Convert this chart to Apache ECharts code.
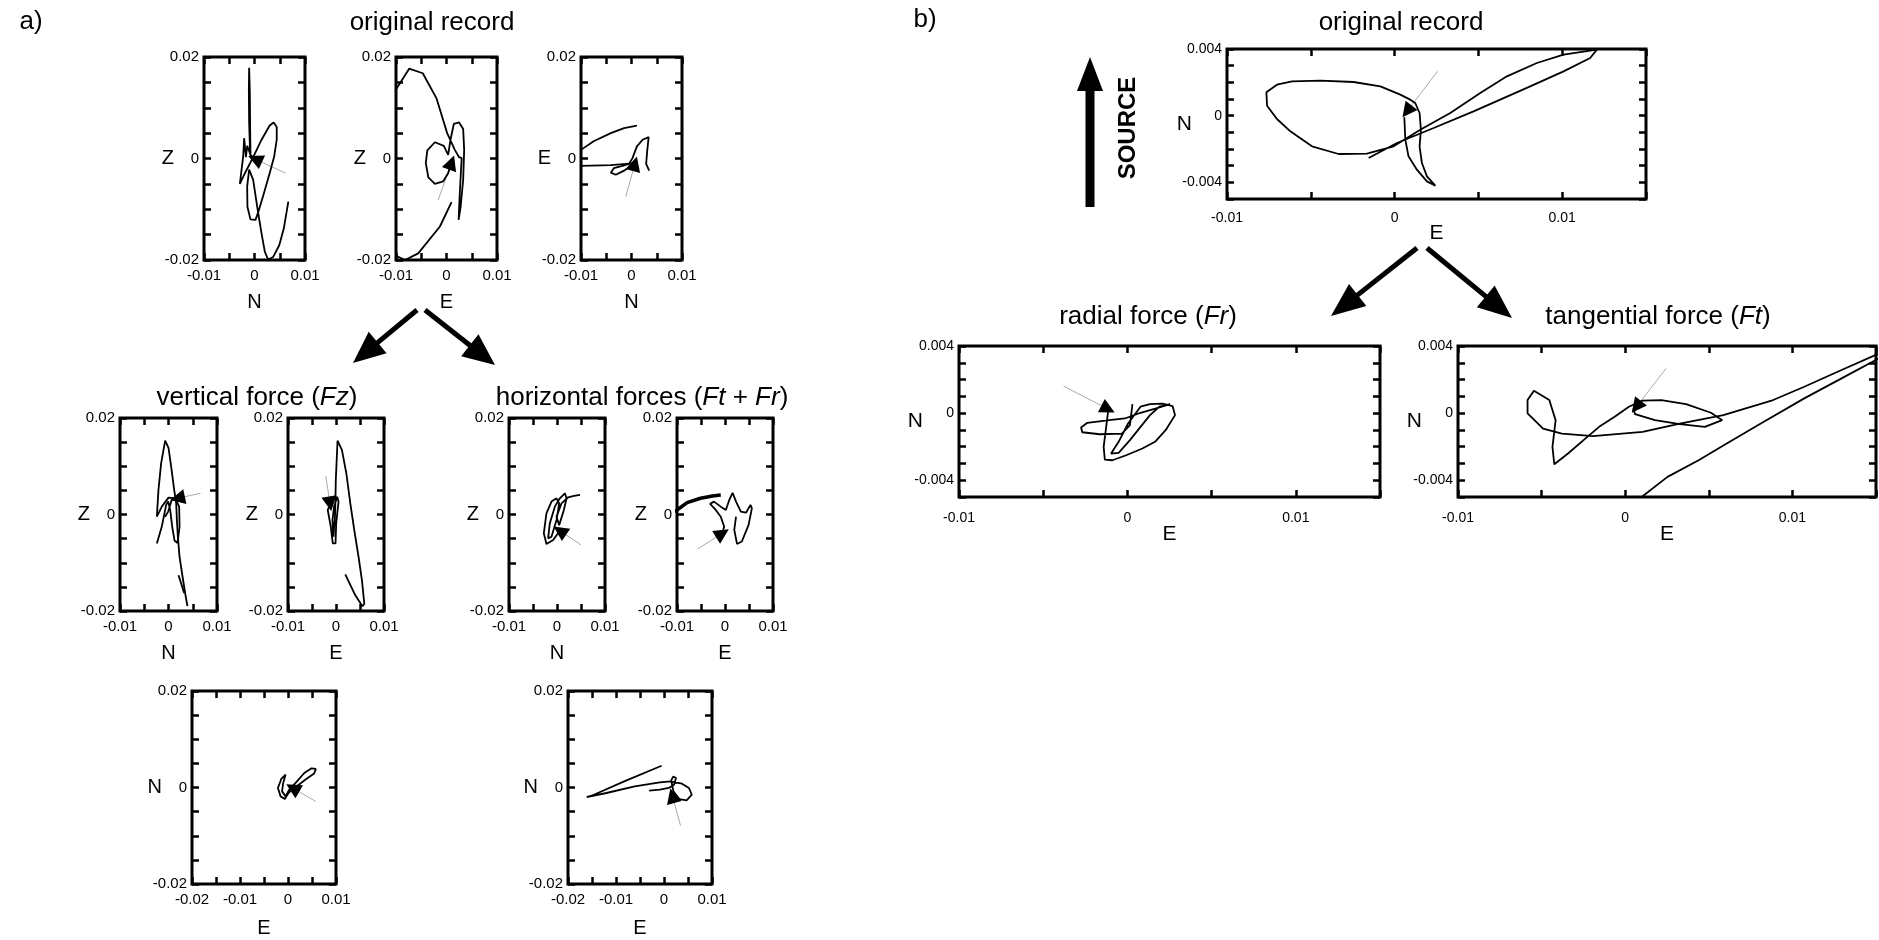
<!DOCTYPE html>
<html>
<head>
<meta charset="utf-8">
<script src="https://cdn.jsdelivr.net/npm/echarts@6/dist/echarts.min.js"></script>
<style>
  html, body { margin: 0; padding: 0; background: #fff; }
  #main { width: 1879px; height: 940px; }
</style>
</head>
<body>
<div id="main"></div>
<script>
// particle motion traces (metres), each panel is a list of line segments
// a) original record
const zN_orig = [[[0.00013,-0.00013],[-0.00086,0.00073],[-0.00106,0.0070],[-0.00112,0.0136],[-0.00106,0.0179],[-0.00092,0.0129],[-0.00086,0.0057],[-0.00079,0.00073],[-0.00145,0.0025],[-0.0017,0.00026],[-0.00205,0.0040],[-0.00224,0.0004],[-0.0029,-0.0050],[-0.0019,-0.0029],[-0.00026,0.00026],[0.0014,0.0037],[0.0030,0.0065],[0.0038,0.0071],[0.0044,0.0062],[0.0044,0.0037],[0.0039,0.0004],[0.0030,-0.0029],[0.00185,-0.0069],[0.00086,-0.0102],[0.0002,-0.0121],[-0.0008,-0.0120],[-0.0014,-0.0095],[-0.00145,-0.0055],[-0.00106,-0.0022],[-0.00026,-0.0042],[0.00053,-0.0095],[0.0014,-0.0148],[0.00205,-0.0184],[0.0027,-0.0199],[0.0037,-0.0194],[0.0049,-0.0171],[0.0058,-0.0138],[0.0067,-0.0085]]];
const zN_origStart = [[0.0062,-0.0029],[0.00013,-0.00013]];

const zE_orig = [[[0.00086,-0.00105],[0.00033,-0.0029],[-0.00066,-0.0045],[-0.0023,-0.0050],[-0.0036,-0.0037],[-0.0041,-0.00092],[-0.0038,0.0016],[-0.0023,0.0032],[-0.00053,0.0025],[0.00033,0.00072],[0.00079,0.0037],[0.00145,0.0068],[0.0025,0.0071],[0.0033,0.0058],[0.0035,0.0017],[0.0033,-0.0042],[0.0028,-0.0095],[0.0024,-0.0121],[0.0026,-0.0075],[0.0030,0.00007],[0.0025,0.00026],[0.00165,0.0017],[0.00013,0.0050],[-0.0020,0.0119],[-0.0047,0.0168],[-0.0074,0.0177],[-0.0100,0.0136],[-0.0112,-0.0029],[-0.0099,-0.0192],[-0.0082,-0.0200],[-0.0056,-0.0187],[-0.0013,-0.0134],[0.0010,-0.0086]]];
const zE_origStart = [[-0.00165,-0.0082],[0.0010,-0.0008]];

const eN_orig = [
  [[0.00053,-0.00105],[-0.00013,-0.00145],[-0.00147,-0.0024],[-0.0031,-0.0032],[-0.0041,-0.0028],[-0.0035,-0.0019],[-0.0018,-0.00145],[-0.00047,-0.00105],[0.0002,0.00007],[0.00107,0.0024],[0.0022,0.0037],[0.0034,0.0042],[0.0031,0.0014],[0.0029,-0.00105],[0.0035,-0.0024]],
  [[0.00087,-0.00092],[-0.0041,-0.0013],[-0.0100,-0.00145],[-0.0121,-0.0016]],
  [[-0.0115,0.0007],[-0.0100,0.0017],[-0.0075,0.0034],[-0.0041,0.0050],[-0.00147,0.0060],[0.00107,0.0065]]
];
const eN_origStart = [[-0.00113,-0.0075],[0.00067,-0.00105]];

// a) vertical force (Fz)
const zN_vert = [
  [[0.00186,0.00336],[0,0.0035],[-0.00138,0.00163],[-0.0024,-0.00045],[-0.00207,0.0051],[-0.00152,0.0106],[-0.00069,0.0153],[0,0.0138],[0.00055,0.0099],[0.00117,0.0051],[0.00159,0.0023],[0.00173,-0.00114],[0.00193,-0.0046],[0.00228,-0.0088],[0.0029,-0.0129],[0.00345,-0.0164],[0.0039,-0.0190]],
  [[-0.0024,-0.0060],[-0.00138,-0.0025],[-0.00048,0.0020],[-0.00007,0.0027],[0.00035,0.00094],[0.00076,-0.0025],[0.00124,-0.0054],[0.00186,-0.0059],[0.00228,-0.0025],[0.0022,0.00163],[0.00145,0.0032],[0.00062,0.0029],[-0.00007,0.0006],[-0.00069,-0.00045]],
  [[0.00207,-0.0126],[0.00324,-0.0163]]
];
const zN_vertStart = [[0.0066,0.0044],[0.00186,0.00336]];

const zE_vert = [[[-0.00123,0.00198],[-0.00172,0.00094],[-0.00109,-0.0025],[-0.00067,-0.0060],[-0.0001,-0.0060],[0.00004,-0.00184],[0.00053,0.00267],[0.00025,0.0037],[-0.00039,0.00163],[-0.00074,-0.00114],[-0.00053,-0.0046],[-0.00018,0.00024],[-0.00004,0.0072],[0.00032,0.0153],[0.00123,0.0134],[0.00214,0.0086],[0.00298,0.0023],[0.0038,-0.0032],[0.0047,-0.0088],[0.0054,-0.0136],[0.0059,-0.0185],[0.0055,-0.0190],[0.0040,-0.0167],[0.00193,-0.0124]]];
const zE_vertStart = [[-0.00214,0.0080],[-0.00123,0.0022]];

// a) horizontal forces (Ft + Fr)
const zN_horiz = [[[0.00059,-0.00336],[-0.0008,-0.0053],[-0.0022,-0.0061],[-0.00275,-0.0039],[-0.0022,0.00024],[-0.00115,0.00267],[-0.0001,0.00336],[0.00045,0.0023],[-0.0001,-0.00114],[-0.00115,-0.0046],[-0.00185,-0.00495],[-0.0015,-0.00184],[-0.00045,0.00163],[0.00059,0.00336],[0.00164,0.0044],[0.00199,0.00336],[0.00143,0.00094],[0.00045,-0.0022],[-0.0001,-0.00045],[0.00094,0.0023],[0.00233,0.00357],[0.00352,0.00385],[0.0048,0.00405]]];
const zN_horizStart = [[0.0050,-0.0063],[0.00059,-0.00336]];

const zE_horiz = [
  [[-0.00053,-0.0039],[-0.00018,-0.0025],[-0.00088,-0.00045],[-0.00193,0.00094],[-0.0031,0.0022],[-0.0023,0.00267],[-0.00088,0.00163],[0.00018,0.00094],[0.00088,0.0030],[0.00158,0.0045],[0.0023,0.00267],[0.0033,0.00059],[0.0044,0.00038],[0.0053,0.00198],[0.0056,0.00128],[0.0049,-0.0022],[0.0035,-0.0056],[0.0025,-0.0061],[0.00193,-0.0032],[0.0023,-0.00045]],
  [[-0.0114,0.0001],[-0.0100,0.00094],[-0.0079,0.00246],[-0.0051,0.00336],[-0.0026,0.00385],[-0.00088,0.00405]]
];
const zE_horizStart = [[-0.0058,-0.0072],[-0.00053,-0.0039]];

// a) map view N vs E
const nE_vert = [[[0.00099,-0.00031],[0.0001,-0.00114],[-0.00065,-0.0024],[-0.00154,-0.00184],[-0.0021,-0.0001],[-0.0014,0.00177],[-0.0005,0.00267],[-0.001,0.00094],[-0.00124,-0.0008],[-0.0005,-0.00184],[0.00025,-0.00045],[0.00158,0.00094],[0.0034,0.0030],[0.0049,0.00398],[0.0058,0.00385],[0.00545,0.0029],[0.0038,0.00177],[0.00196,0.00038],[0.00069,-0.00059]]];
const nE_vertStart = [[0.0058,-0.0029],[0.00099,-0.0001]];

const nE_horiz = [[[-0.0031,-0.00066],[-0.00087,-0.00045],[0.00099,-0.0001],[0.0021,0.00059],[0.0025,0.00198],[0.00196,0.0023],[0.0015,0.0015],[0.00196,-0.0008],[0.0032,-0.0024],[0.0047,-0.00267],[0.0058,-0.0015],[0.0052,-0.0001],[0.00374,0.0008],[0.00136,0.00128],[-0.00087,0.00107],[-0.0061,0.00024],[-0.0120,-0.00114],[-0.0161,-0.00198],[-0.0146,-0.0015],[-0.0083,0.00128],[-0.0005,0.0045]]];
const nE_horizStart = [[0.00344,-0.0079],[0.00173,-0.0017]];

// b) original record and its radial / tangential parts
const nE_origB = [[[0.00058,-0.0001],[0.00064,-0.00144],[0.00083,-0.00244],[0.00133,-0.00324],[0.00193,-0.00394],[0.00243,-0.0042],[0.00193,-0.00364],[0.00163,-0.00284],[0.00149,-0.00184],[0.00157,-0.00084],[0.00149,0.00016],[0.00123,0.00076],[0.00093,0.00096],[0.00034,0.00126],[-0.00085,0.00176],[-0.00245,0.00202],[-0.00443,0.0021],[-0.00612,0.00206],[-0.00702,0.00186],[-0.00765,0.0014],[-0.00761,0.0006],[-0.00702,-0.0002],[-0.00622,-0.00094],[-0.00493,-0.00184],[-0.00334,-0.0023],[-0.00165,-0.00228],[-0.00006,-0.00184],[0.00153,-0.00084],[0.00332,0.00016],[0.00511,0.00136],[0.0067,0.00236],[0.00849,0.00316],[0.01008,0.00366],[0.01207,0.00396],[0.01217,0.00392],[0.01167,0.00346],[0.01008,0.00266],[0.00809,0.00176],[0.0063,0.00096],[0.00471,0.00026],[0.00233,-0.00074],[0.00014,-0.00164],[-0.00155,-0.00254]]];
const nE_origBStart = [[0.00256,0.00266],[0.00074,0.00026]];

const nE_radial = [[[-0.00115,0.00008],[-0.00126,-0.00082],[-0.00141,-0.00201],[-0.00134,-0.00277],[-0.00089,-0.00281],[-0.00007,-0.00251],[0.00089,-0.00211],[0.00164,-0.00171],[0.00227,-0.00102],[0.00283,-0.00012],[0.00268,0.00042],[0.00208,0.00056],[0.00134,0.00054],[0.00078,0.00038],[0.00004,-0.00062],[-0.00052,-0.00171],[-0.00097,-0.00241],[-0.00052,-0.00237],[0.00015,-0.00161],[0.00078,-0.00082],[0.00134,-0.00012],[0.0019,0.00038],[0.00253,0.00054],[0.00171,0.00028],[0.00078,0.00002],[-0.00015,-0.00032],[-0.00108,-0.00042],[-0.00238,-0.00058],[-0.00275,-0.00086],[-0.00268,-0.00114],[-0.00164,-0.00126],[-0.00033,-0.00122],[0.00015,-0.00072],[0.0003,0.00054]]];
const nE_radialStart = [[-0.00379,0.00161],[-0.00115,0.00024]];

const nE_tangential = [[[0.00048,0.00028],[0.00059,-0.00006],[0.00178,-0.00042],[0.00327,-0.00066],[0.00476,-0.00082],[0.0058,-0.00042],[0.00513,0.00002],[0.00364,0.00054],[0.00216,0.00078],[0.00104,0.00074],[0.00022,0.00038],[-0.00063,-0.00022],[-0.00156,-0.00082],[-0.00249,-0.00161],[-0.00342,-0.00241],[-0.00424,-0.00305],[-0.00435,-0.00201],[-0.00416,-0.00042],[-0.00454,0.00078],[-0.00546,0.00133],[-0.00584,0.00078],[-0.00584,-0.00002],[-0.00491,-0.00092],[-0.00379,-0.00122],[-0.00193,-0.00137],[0.00104,-0.00112],[0.00327,-0.00062],[0.00587,-0.00012],[0.00885,0.00078],[0.01071,0.00157],[0.01294,0.00257],[0.01499,0.00347],[0.0163,0.00392],[0.01499,0.00317],[0.01294,0.00207],[0.01071,0.00088],[0.00829,-0.00052],[0.00625,-0.00171],[0.00439,-0.00281],[0.00253,-0.0038],[0.00104,-0.00496],[0.00067,-0.0053]]];
const nE_tangentialStart = [[0.00245,0.00267],[0.00067,0.00038]];

const FONT = "'Liberation Sans', Arial, Helvetica, sans-serif";

// layout of the panels: [left, top, width, height] in px
const aStyle = { labelSize: 15, nameSize: 20, xLabelMargin: 8, yLabelMargin: 5, xNameGap: 32, yNameGap: 30, xLab: 0.01, yLab: 0.02 };
const bStyle = { labelSize: 14, nameSize: 21, xLabelMargin: 12, yLabelMargin: 5, xNameGap: 24, yNameGap: 35, xLab: 0.01, yLab: 0.004 };
const aRange = { x: [-0.01, 0.01, 0.005], y: [-0.02, 0.02, 0.005] };
const mapRange = { x: [-0.02, 0.01, 0.005], y: [-0.02, 0.02, 0.005] };
const bRange = { x: [-0.01, 0.015, 0.005], y: [-0.005, 0.004, 0.001] };

const panels = [
  { box: [204, 57, 101, 203], r: aRange, s: aStyle, xName: 'N', yName: 'Z', trace: zN_orig, start: zN_origStart },
  { box: [396, 57, 101, 203], r: aRange, s: aStyle, xName: 'E', yName: 'Z', trace: zE_orig, start: zE_origStart },
  { box: [581, 57, 101, 203], r: aRange, s: aStyle, xName: 'N', yName: 'E', trace: eN_orig, start: eN_origStart },
  { box: [120, 418, 97, 193], r: aRange, s: aStyle, xName: 'N', yName: 'Z', trace: zN_vert, start: zN_vertStart },
  { box: [288, 418, 96, 193], r: aRange, s: aStyle, xName: 'E', yName: 'Z', trace: zE_vert, start: zE_vertStart },
  { box: [509, 418, 96, 193], r: aRange, s: aStyle, xName: 'N', yName: 'Z', trace: zN_horiz, start: zN_horizStart },
  { box: [677, 418, 96, 193], r: aRange, s: aStyle, xName: 'E', yName: 'Z', trace: zE_horiz, start: zE_horizStart, thick: [1] },
  { box: [192, 691, 144, 193], r: mapRange, s: Object.assign({}, aStyle, { xNameGap: 34 }), xName: 'E', yName: 'N', trace: nE_vert, start: nE_vertStart },
  { box: [568, 691, 144, 193], r: mapRange, s: Object.assign({}, aStyle, { xNameGap: 34 }), xName: 'E', yName: 'N', trace: nE_horiz, start: nE_horizStart },
  { box: [1227, 49, 419, 150], r: bRange, s: bStyle, xName: 'E', yName: 'N', trace: nE_origB, start: nE_origBStart },
  { box: [959, 346, 421, 151], r: bRange, s: Object.assign({}, bStyle, { xLabelMargin: 14, xNameGap: 27, yNameGap: 36 }), xName: 'E', yName: 'N', trace: nE_radial, start: nE_radialStart },
  { box: [1458, 346, 418, 151], r: bRange, s: Object.assign({}, bStyle, { xLabelMargin: 14, xNameGap: 27, yNameGap: 36 }), xName: 'E', yName: 'N', trace: nE_tangential, start: nE_tangentialStart }
];

function tickText(v, step) {
  const k = Math.round(v / step);
  if (Math.abs(v / step - k) > 1e-6) return '';
  if (k === 0) return '0';
  return String(parseFloat(v.toFixed(4)));
}

const grids = [], xAxes = [], yAxes = [], series = [];
const tick = { show: true, inside: true, length: 7, lineStyle: { color: '#000', width: 2.5 } };
const noLine = { show: false, onZero: false };

panels.forEach((p, i) => {
  const [l, t, w, h] = p.box;
  grids.push({ left: l, top: t, width: w, height: h, show: true, borderColor: '#000', borderWidth: 3, backgroundColor: 'transparent' });
  const xr = p.r.x, yr = p.r.y, s = p.s;
  const lab = (step, margin) => ({
    show: true, color: '#000', fontSize: s.labelSize, fontFamily: FONT, margin: margin,
    showMinLabel: true, showMaxLabel: true, hideOverlap: false, formatter: v => tickText(v, step)
  });
  xAxes.push({
    gridIndex: i, type: 'value', position: 'bottom', min: xr[0], max: xr[1], interval: xr[2],
    axisLine: noLine, axisTick: tick, splitLine: { show: false },
    axisLabel: lab(s.xLab, s.xLabelMargin),
    name: p.xName, nameLocation: 'middle', nameGap: s.xNameGap, nameMoveOverlap: false,
    nameTextStyle: { color: '#000', fontSize: s.nameSize, fontFamily: FONT }
  });
  xAxes.push({
    gridIndex: i, type: 'value', position: 'top', min: xr[0], max: xr[1], interval: xr[2],
    axisLine: noLine, axisTick: tick, splitLine: { show: false }, axisLabel: { show: false }
  });
  yAxes.push({
    gridIndex: i, type: 'value', position: 'left', min: yr[0], max: yr[1], interval: yr[2],
    axisLine: noLine, axisTick: tick, splitLine: { show: false },
    axisLabel: lab(s.yLab, s.yLabelMargin),
    name: p.yName, nameLocation: 'middle', nameGap: s.yNameGap, nameRotate: 0, nameMoveOverlap: false,
    nameTextStyle: { color: '#000', fontSize: s.nameSize, fontFamily: FONT }
  });
  yAxes.push({
    gridIndex: i, type: 'value', position: 'right', min: yr[0], max: yr[1], interval: yr[2],
    axisLine: noLine, axisTick: tick, splitLine: { show: false }, axisLabel: { show: false }
  });

  p.trace.forEach((seg, k) => {
    series.push({
      type: 'line', xAxisIndex: 2 * i, yAxisIndex: 2 * i, data: seg,
      showSymbol: false, symbol: 'none', clip: true, silent: true, animation: false,
      lineStyle: { color: '#000', width: (p.thick && p.thick.includes(k)) ? 3.5 : 1.8 },
      z: 3
    });
  });

  // start marker: thin grey line ending in a black arrow head
  const [a, b] = p.start;
  const near = [b[0] + (a[0] - b[0]) * 0.12, b[1] + (a[1] - b[1]) * 0.12];
  series.push({
    type: 'line', xAxisIndex: 2 * i, yAxisIndex: 2 * i, data: p.start,
    showSymbol: false, symbol: 'none', clip: true, silent: true, animation: false,
    lineStyle: { color: '#aaa', width: 1 }, z: 2,
    markLine: {
      silent: true, animation: false, symbol: ['none', 'triangle'], symbolSize: 15,
      label: { show: false }, lineStyle: { color: '#000', width: 1, type: 'solid' },
      emphasis: { disabled: true },
      data: [[{ coord: near }, { coord: b }]]
    }
  });
});

function arrow(x1, y1, x2, y2, w, hl, hw) {
  const dx = x2 - x1, dy = y2 - y1, L = Math.hypot(dx, dy), ux = dx / L, uy = dy / L;
  const bx = x2 - ux * hl, by = y2 - uy * hl;
  return [
    { type: 'line', silent: true, shape: { x1: x1, y1: y1, x2: bx + ux * 2, y2: by + uy * 2 }, style: { stroke: '#000', lineWidth: w } },
    { type: 'polygon', silent: true, shape: { points: [[x2, y2], [bx - uy * hw, by + ux * hw], [bx + uy * hw, by - ux * hw]] }, style: { fill: '#000' } }
  ];
}

function label(x, y, text, size) {
  return {
    type: 'text', x: x, y: y, silent: true,
    style: {
      text: text, fill: '#000', fontSize: size, fontFamily: FONT,
      align: 'center', verticalAlign: 'middle', textAlign: 'center', textVerticalAlign: 'middle',
      rich: { i: { fontStyle: 'italic', fontSize: size, fontFamily: FONT } }
    }
  };
}

const graphics = [].concat(
  label(31, 22, 'a)', 26),
  label(925, 20, 'b)', 26),
  label(432, 23, 'original record', 26),
  label(257, 398, 'vertical force ({i|Fz})', 26),
  label(642, 398, 'horizontal forces ({i|Ft} + {i|Fr})', 26),
  label(1401, 23, 'original record', 26),
  label(1148, 317, 'radial force ({i|Fr})', 26),
  label(1658, 317, 'tangential force ({i|Ft})', 26),
  arrow(417, 310, 353, 363, 5, 32, 14),
  arrow(425, 310, 495, 365, 5, 32, 14),
  arrow(1417, 248, 1331, 316, 5, 34, 14),
  arrow(1427, 248, 1512, 318, 5, 34, 14),
  arrow(1090, 207, 1090, 57, 9, 34, 13),
  [{
    type: 'text', x: 1128, y: 128, rotation: Math.PI / 2, silent: true,
    style: { text: 'SOURCE', fill: '#000', fontSize: 24, fontWeight: 'bold', fontFamily: FONT,
      align: 'center', verticalAlign: 'middle', textAlign: 'center', textVerticalAlign: 'middle' }
  }]
);

const chart = echarts.init(document.getElementById('main'), null, { renderer: 'canvas' });
chart.setOption({
  backgroundColor: '#fff',
  animation: false,
  grid: grids,
  xAxis: xAxes,
  yAxis: yAxes,
  series: series,
  graphic: { elements: graphics }
});
</script>
</body>
</html>
